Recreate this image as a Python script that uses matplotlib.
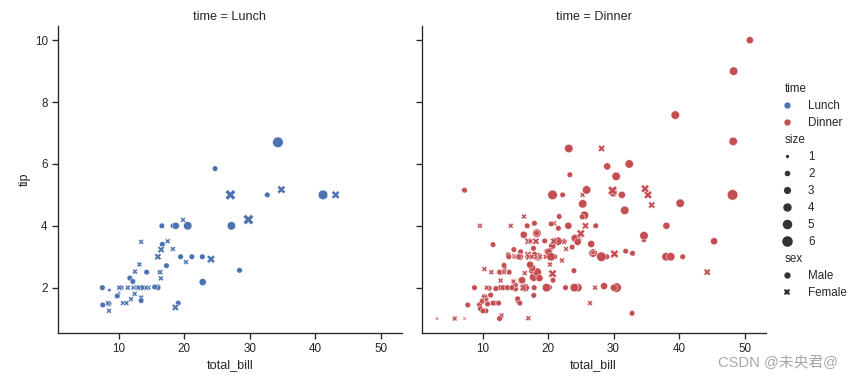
import matplotlib
matplotlib.use("Agg")
import matplotlib.pyplot as plt
from matplotlib.offsetbox import DrawingArea, HPacker, TextArea
import pandas as pd
import seaborn as sns

# tips data, one entry per meal
total_bill = [
    16.99, 10.34, 21.01, 23.68, 24.59, 25.29, 8.77, 26.88, 15.04, 14.78,
    10.27, 35.26, 15.42, 18.43, 14.83, 21.58, 10.33, 16.29, 16.97, 20.65,
    17.92, 20.29, 15.77, 39.42, 19.82, 17.81, 13.37, 12.69, 21.70, 19.65,
    9.55, 18.35, 15.06, 20.69, 17.78, 24.06, 16.31, 16.93, 18.69, 31.27,
    16.04, 17.46, 13.94, 9.68, 30.40, 18.29, 22.23, 32.40, 28.55, 18.04,
    12.54, 10.29, 34.81, 9.94, 25.56, 19.49, 38.01, 26.41, 11.24, 48.27,
    20.29, 13.81, 11.02, 18.29, 17.59, 20.08, 16.45, 3.07, 20.23, 15.01,
    12.02, 17.07, 26.86, 25.28, 14.73, 10.51, 17.92, 27.20, 22.76, 17.29,
    19.44, 16.66, 10.07, 32.68, 15.98, 34.83, 13.03, 18.28, 24.71, 21.16,
    28.97, 22.49, 5.75, 16.32, 22.75, 40.17, 27.28, 12.03, 21.01, 12.46,
    11.35, 15.38, 44.30, 22.42, 20.92, 15.36, 20.49, 25.21, 18.24, 14.31,
    14.00, 7.25, 38.07, 23.95, 25.71, 17.31, 29.93, 10.65, 12.43, 24.08,
    11.69, 13.42, 14.26, 15.95, 12.48, 29.80, 8.52, 14.52, 11.38, 22.82,
    19.08, 20.27, 11.17, 12.26, 18.26, 8.51, 10.33, 14.15, 16.00, 13.16,
    17.47, 34.30, 41.19, 27.05, 16.43, 8.35, 18.64, 11.87, 9.78, 7.51,
    14.07, 13.13, 17.26, 24.55, 19.77, 29.85, 48.17, 25.00, 13.39, 16.49,
    21.50, 12.66, 16.21, 13.81, 17.51, 24.52, 20.76, 31.71, 10.59, 10.63,
    50.81, 15.81, 7.25, 31.85, 16.82, 32.90, 17.89, 14.48, 9.60, 34.63,
    34.65, 23.33, 45.35, 23.17, 40.55, 20.69, 20.90, 30.46, 18.15, 23.10,
    15.69, 19.81, 28.44, 15.48, 16.58, 7.56, 10.34, 43.11, 13.00, 13.51,
    18.71, 12.74, 13.00, 16.40, 20.53, 16.47, 26.59, 38.73, 24.27, 12.76,
    30.06, 25.89, 48.33, 13.27, 28.17, 12.90, 28.15, 11.59, 7.74, 30.14,
    12.16, 13.42, 8.58, 15.98, 13.42, 16.27, 10.09, 20.45, 13.28, 22.12,
    24.01, 15.69, 11.61, 10.77, 15.53, 10.07, 12.60, 32.83, 35.83, 29.03,
    27.18, 22.67, 17.82, 18.78,
]
tip = [
    1.01, 1.66, 3.50, 3.31, 3.61, 4.71, 2.00, 3.12, 1.96, 3.23,
    1.71, 5.00, 1.57, 3.00, 3.02, 3.92, 1.67, 3.71, 3.50, 3.35,
    4.08, 2.75, 2.23, 7.58, 3.18, 2.34, 2.00, 2.00, 4.30, 3.00,
    1.45, 2.50, 3.00, 2.45, 3.27, 3.60, 2.00, 3.07, 2.31, 5.00,
    2.24, 2.54, 3.06, 1.32, 5.60, 3.00, 5.00, 6.00, 2.05, 3.00,
    2.50, 2.60, 5.20, 1.56, 4.34, 3.51, 3.00, 1.50, 1.76, 6.73,
    3.21, 2.00, 1.98, 3.76, 2.64, 3.15, 2.47, 1.00, 2.01, 2.09,
    1.97, 3.00, 3.14, 5.00, 2.20, 1.25, 3.08, 4.00, 3.00, 2.71,
    3.00, 3.40, 1.83, 5.00, 2.03, 5.17, 2.00, 4.00, 5.85, 3.00,
    3.00, 3.50, 1.00, 4.30, 3.25, 4.73, 4.00, 1.50, 3.00, 1.50,
    2.50, 3.00, 2.50, 3.48, 4.08, 1.64, 4.06, 4.29, 3.76, 4.00,
    3.00, 1.00, 4.00, 2.55, 4.00, 3.50, 5.07, 1.50, 1.80, 2.92,
    2.31, 1.68, 2.50, 2.00, 2.52, 4.20, 1.48, 2.00, 2.00, 2.18,
    1.50, 2.83, 1.50, 2.00, 3.25, 1.25, 2.00, 2.00, 2.00, 2.75,
    3.50, 6.70, 5.00, 5.00, 2.30, 1.50, 1.36, 1.63, 1.73, 2.00,
    2.50, 2.00, 2.74, 2.00, 2.00, 5.14, 5.00, 3.75, 2.61, 2.00,
    3.50, 2.50, 2.00, 2.00, 3.00, 3.48, 2.24, 4.50, 1.61, 2.00,
    10.00, 3.16, 5.15, 3.18, 4.00, 3.11, 2.00, 2.00, 4.00, 3.55,
    3.68, 5.65, 3.50, 6.50, 3.00, 5.00, 3.50, 2.00, 3.50, 4.00,
    1.50, 4.19, 2.56, 2.02, 4.00, 1.44, 2.00, 5.00, 2.00, 2.00,
    4.00, 2.01, 2.00, 2.50, 4.00, 3.23, 3.41, 3.00, 2.03, 2.23,
    2.00, 5.16, 9.00, 2.50, 6.50, 1.10, 3.00, 1.50, 1.44, 3.09,
    2.20, 3.48, 1.92, 3.00, 1.58, 2.50, 2.00, 3.00, 2.72, 2.88,
    2.00, 3.00, 3.39, 1.47, 3.00, 1.25, 1.00, 1.17, 4.67, 5.92,
    2.00, 2.00, 1.75, 3.00,
]
party_size = [
    2, 3, 3, 2, 4, 4, 2, 4, 2, 2,  2, 4, 2, 4, 2, 2, 3, 3, 3, 3,
    2, 2, 2, 4, 2, 4, 2, 2, 2, 2,  2, 4, 2, 4, 2, 3, 3, 3, 3, 3,
    3, 2, 2, 2, 4, 2, 2, 4, 3, 2,  2, 2, 4, 2, 4, 2, 4, 2, 2, 4,
    2, 2, 2, 4, 3, 3, 2, 1, 2, 2,  2, 3, 2, 2, 2, 2, 2, 4, 2, 2,
    2, 2, 1, 2, 2, 4, 2, 2, 2, 2,  2, 2, 2, 2, 2, 4, 2, 2, 2, 2,
    2, 2, 3, 2, 2, 2, 2, 2, 2, 2,  2, 1, 3, 2, 3, 2, 4, 2, 2, 4,
    2, 2, 2, 2, 2, 6, 2, 2, 2, 3,  2, 2, 2, 2, 2, 2, 2, 2, 2, 2,
    2, 6, 5, 6, 2, 2, 3, 2, 2, 2,  2, 2, 3, 4, 4, 5, 6, 4, 2, 4,
    4, 2, 3, 2, 2, 3, 2, 4, 2, 2,  3, 2, 2, 2, 2, 2, 2, 2, 2, 2,
    4, 2, 3, 4, 2, 5, 3, 5, 3, 3,  2, 2, 2, 2, 2, 2, 2, 4, 2, 2,
    3, 2, 2, 2, 4, 3, 3, 4, 2, 2,  3, 4, 4, 2, 3, 2, 5, 2, 2, 4,
    2, 2, 1, 3, 2, 2, 2, 4, 2, 2,  4, 3, 2, 2, 2, 2, 2, 2, 3, 3,
    2, 2, 2, 2,
]
# M = Male, F = Female
sex_codes = (
    "FMMMFMMMMM" "MFMMFMFMFM" "MFFMMMMMMF" "MMFFMMMFMM" "MMMMMMMMMM"
    "MFFMMMMFMM" "MMMMMMFFMM" "MFFFFMMMMM" "MMFMMFMMMM" "MMFFFMMMMM"
    "FFFFFMMMMF" "MFMMFFMFFF" "MFMMFFMFFM" "MFFFFFFFMF" "FMMFFFFFMM"
    "MMMMMFMFFM" "MMFMFMMMFF" "MMMMMMMMFM" "MMMMMMFMFM" "MFMMMMMFFM"
    "MFFFMFMMMF" "MMMFFFMMMF" "MFMFMFFMMF" "MMMMMMMMFM" "FMMF"
)
# D = Dinner, L = Lunch (runs of consecutive rows)
time_runs = [("D", 77), ("L", 13), ("D", 27), ("L", 33), ("D", 41),
             ("L", 15), ("D", 14), ("L", 7), ("D", 17)]

time_names = {"L": "Lunch", "D": "Dinner"}
sex_names = {"M": "Male", "F": "Female"}
time_col = [time_names[c] for c, n in time_runs for _ in range(n)]

tips = pd.DataFrame({
    "total_bill": total_bill,
    "tip": tip,
    "sex": pd.Categorical([sex_names[c] for c in sex_codes], ["Male", "Female"]),
    "time": pd.Categorical(time_col, ["Lunch", "Dinner"]),
    "size": party_size,
})

sns.set_theme(style="ticks")
plt.rcParams["font.family"] = ["Liberation Sans", "Noto Sans CJK SC"]

g = sns.relplot(data=tips, x="total_bill", y="tip", hue="time", size="size",
                style="sex", palette=["b", "r"], sizes=(10, 100), col="time",
                height=5)

W, H, DPI = 854, 380, 76
fig = g.figure
fig.set_dpi(DPI)
fig.set_size_inches(W / DPI, H / DPI)

ax_l, ax_r = g.axes[0]
bottom, top = 332.5, 26.3
ax_l.set_position([57.7 / W, (H - bottom) / H, 344 / W, (bottom - top) / H])
ax_r.set_position([421.5 / W, (H - bottom) / H, 344 / W, (bottom - top) / H])

# rebuild the legend in the order time, size, sex
titles = ("time", "size", "sex")
old = g._legend
handles = list(old.legend_handles)
labels = [t.get_text() for t in old.texts]
old.remove()
groups, cur = [], None
for h, lab in zip(handles, labels):
    if lab in titles:
        cur = [lab, []]
        groups.append(cur)
    cur[1].append((h, lab))
groups.sort(key=lambda grp: titles.index(grp[0]))
pairs = [p for grp in groups for p in grp[1]]
leg = fig.legend([p[0] for p in pairs], [p[1] for p in pairs],
                 loc="upper left", frameon=False, fontsize=11,
                 labelspacing=0.43, handletextpad=0.8,
                 bbox_to_anchor=(765 / W, 1 - 73 / H),
                 bbox_transform=fig.transFigure)
# subtitles sit left, where the marker column starts
for hp in leg.findobj(HPacker):
    kids = hp.get_children()
    if len(kids) == 2 and isinstance(kids[0], DrawingArea) \
            and isinstance(kids[1], TextArea) and kids[1].get_text() in titles:
        kids[0].set_width(0)
        for a in kids[0].get_children():
            a.set_visible(False)

fig.text(718 / W, 1 - 362 / H, "CSDN @未央君@", fontsize=14, color="#a8a8a8",
         va="center", ha="left")

fig.savefig("out.png", dpi=DPI)
